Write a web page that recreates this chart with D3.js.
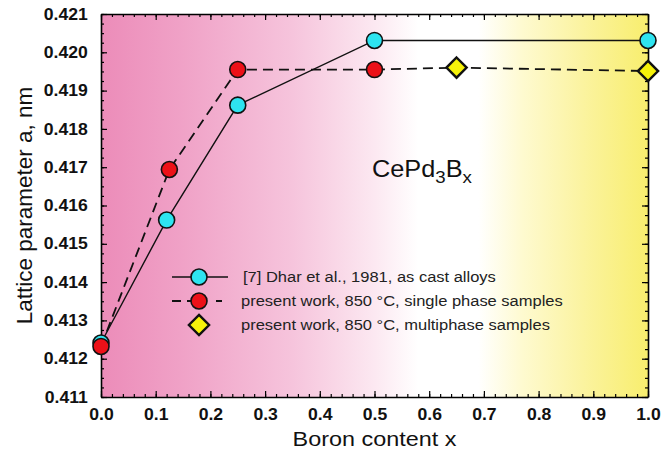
<!DOCTYPE html>
<html>
<head>
<meta charset="utf-8">
<script src="https://cdn.jsdelivr.net/npm/d3@7"></script>
<style>
  html, body { margin: 0; padding: 0; background: #ffffff; }
  svg { display: block; }
</style>
</head>
<body>
<svg id="chart" width="661" height="454"></svg>
<script>
// Lattice parameter of CePd3Bx versus boron content
const dharX = [0.0, 0.12, 0.25, 0.5, 1.0];
const dharA = [0.41241, 0.41562, 0.41862, 0.42031, 0.42031];

const singleX = [0.0, 0.125, 0.25, 0.5];
const singleA = [0.41232, 0.41694, 0.41955, 0.41955];

const multiX = [0.65, 1.0];
const multiA = [0.41960, 0.41951];

const xTicks = [0.0, 0.1, 0.2, 0.3, 0.4, 0.5, 0.6, 0.7, 0.8, 0.9, 1.0];
const yTicks = [0.411, 0.412, 0.413, 0.414, 0.415, 0.416, 0.417, 0.418, 0.419, 0.420, 0.421];

const legendLabels = [
  "[7] Dhar et al., 1981, as cast alloys",
  "present work, 850 °C, single phase samples",
  "present work, 850 °C, multiphase samples"
];

const svg = d3.select("#chart");
const margin = { left: 101, right: 13, top: 14, bottom: 57 };
const W = 661, H = 454;
const pw = W - margin.left - margin.right;
const ph = H - margin.top - margin.bottom;

const x = d3.scaleLinear().domain([0, 1]).range([margin.left, margin.left + pw]);
const y = d3.scaleLinear().domain([0.411, 0.421]).range([margin.top + ph, margin.top]);

// the lettering is set slightly wide
const SX = 1.1;
const font = "'Liberation Sans', Arial, sans-serif";

// background gradient: pink -> white -> yellow
const defs = svg.append("defs");
const grad = defs.append("linearGradient").attr("id", "bg").attr("x1", "0%").attr("x2", "100%").attr("y1", "0%").attr("y2", "0%");
[
  [0.00, "#ec8cb9"],
  [0.15, "#f0a2c7"],
  [0.35, "#f6c4dc"],
  [0.50, "#fce8f1"],
  [0.58, "#ffffff"],
  [0.69, "#ffffff"],
  [0.77, "#fefad0"],
  [0.88, "#fbf3a0"],
  [1.00, "#f8ee6e"]
].forEach(([o, c]) => grad.append("stop").attr("offset", o).attr("stop-color", c));

svg.append("rect")
  .attr("x", margin.left).attr("y", margin.top)
  .attr("width", pw).attr("height", ph)
  .attr("fill", "url(#bg)");

// axes with inward ticks on all four sides
const xMinor = d3.range(0, 1.0001, 0.02);
const yMinor = d3.range(0.411, 0.42101, 0.00025);

function styleAxis(g) {
  g.select(".domain").attr("stroke", "#000").attr("stroke-width", 1.6);
  g.selectAll(".tick line").attr("stroke", "#000").attr("stroke-width", 1.2);
}

// minor ticks
svg.append("g").attr("transform", `translate(0,${margin.top + ph})`)
  .call(d3.axisBottom(x).tickValues(xMinor).tickSize(-3).tickFormat(""))
  .call(styleAxis).call(g => g.select(".domain").remove());
svg.append("g").attr("transform", `translate(0,${margin.top})`)
  .call(d3.axisTop(x).tickValues(xMinor).tickSize(-3).tickFormat(""))
  .call(styleAxis).call(g => g.select(".domain").remove());
svg.append("g").attr("transform", `translate(${margin.left},0)`)
  .call(d3.axisLeft(y).tickValues(yMinor).tickSize(-3).tickFormat(""))
  .call(styleAxis).call(g => g.select(".domain").remove());
svg.append("g").attr("transform", `translate(${margin.left + pw},0)`)
  .call(d3.axisRight(y).tickValues(yMinor).tickSize(-3).tickFormat(""))
  .call(styleAxis).call(g => g.select(".domain").remove());

// major ticks
const xb = svg.append("g").attr("transform", `translate(0,${margin.top + ph})`)
  .call(d3.axisBottom(x).tickValues(xTicks).tickSize(-6).tickSizeOuter(0).tickPadding(12).tickFormat(d3.format(".1f")))
  .call(styleAxis);
xb.selectAll("text").attr("font-family", font).attr("font-weight", "bold").attr("font-size", 16)
  .attr("fill", "#111").attr("transform", `scale(${SX},1)`);

svg.append("g").attr("transform", `translate(0,${margin.top})`)
  .call(d3.axisTop(x).tickValues(xTicks).tickSize(-6).tickSizeOuter(0).tickFormat(""))
  .call(styleAxis);

const yl = svg.append("g").attr("transform", `translate(${margin.left},0)`)
  .call(d3.axisLeft(y).tickValues(yTicks).tickSize(-6).tickSizeOuter(0).tickPadding(12).tickFormat(d3.format(".3f")))
  .call(styleAxis);
yl.selectAll("text").attr("font-family", font).attr("font-weight", "bold").attr("font-size", 16)
  .attr("fill", "#111").attr("transform", `scale(${SX},1)`);

svg.append("g").attr("transform", `translate(${margin.left + pw},0)`)
  .call(d3.axisRight(y).tickValues(yTicks).tickSize(-6).tickSizeOuter(0).tickFormat(""))
  .call(styleAxis);

// axis titles
svg.append("text")
  .attr("transform", `translate(${margin.left + pw / 2},446) scale(1.17,1)`)
  .attr("text-anchor", "middle")
  .attr("font-family", font).attr("font-size", 20).attr("fill", "#111")
  .text("Boron content x");

svg.append("text")
  .attr("transform", `translate(32,${margin.top + ph / 2}) rotate(-90)`)
  .attr("text-anchor", "middle")
  .attr("font-family", font).attr("font-size", 22.5).attr("fill", "#111")
  .text("Lattice parameter a, nm");

// lines
const line = d3.line().x(d => x(d[0])).y(d => y(d[1]));
const dharPts = dharX.map((v, i) => [v, dharA[i]]);
const singlePts = singleX.map((v, i) => [v, singleA[i]]);
const multiPts = multiX.map((v, i) => [v, multiA[i]]);

svg.append("path").datum(singlePts.concat(multiPts))
  .attr("d", line).attr("fill", "none")
  .attr("stroke", "#111").attr("stroke-width", 1.8).attr("stroke-dasharray", "10,6");

svg.append("path").datum(dharPts)
  .attr("d", line).attr("fill", "none")
  .attr("stroke", "#111").attr("stroke-width", 1.4);

// markers
svg.append("g").selectAll("circle").data(dharPts).join("circle")
  .attr("cx", d => x(d[0])).attr("cy", d => y(d[1])).attr("r", 8)
  .attr("fill", "#2ee4f0").attr("stroke", "#111").attr("stroke-width", 1.6);

svg.append("g").selectAll("circle").data(singlePts).join("circle")
  .attr("cx", d => x(d[0])).attr("cy", d => y(d[1])).attr("r", 8)
  .attr("fill", "#ec1118").attr("stroke", "#111").attr("stroke-width", 1.6);

const diamond = d3.symbol().type(d3.symbolDiamond2).size(260);
svg.append("g").selectAll("path").data(multiPts).join("path")
  .attr("transform", d => `translate(${x(d[0])},${y(d[1])})`)
  .attr("d", diamond)
  .attr("fill", "#f6f20a").attr("stroke", "#111").attr("stroke-width", 2.4).attr("stroke-linejoin", "miter");

// formula label
const f = svg.append("text")
  .attr("transform", `translate(372,177) scale(${SX},1)`)
  .attr("font-family", font).attr("font-size", 23).attr("fill", "#111");
f.append("tspan").text("CePd");
f.append("tspan").attr("font-size", 17).attr("dy", 6).text("3");
f.append("tspan").attr("dy", -6).text("B");
f.append("tspan").attr("font-size", 17).attr("dy", 6).text("x");

// legend
const lg = svg.append("g");
const legY = [277, 301, 325];
const lx = 199;

lg.append("line").attr("x1", 172).attr("x2", 228).attr("y1", legY[0]).attr("y2", legY[0])
  .attr("stroke", "#111").attr("stroke-width", 1.4);
lg.append("circle").attr("cx", lx).attr("cy", legY[0]).attr("r", 8)
  .attr("fill", "#2ee4f0").attr("stroke", "#111").attr("stroke-width", 1.6);

lg.append("line").attr("x1", 172).attr("x2", 228).attr("y1", legY[1]).attr("y2", legY[1])
  .attr("stroke", "#111").attr("stroke-width", 1.8).attr("stroke-dasharray", "9,6,12,6,2");
lg.append("circle").attr("cx", lx).attr("cy", legY[1]).attr("r", 8)
  .attr("fill", "#ec1118").attr("stroke", "#111").attr("stroke-width", 1.6);

lg.append("path")
  .attr("transform", `translate(${lx},${legY[2]})`)
  .attr("d", diamond)
  .attr("fill", "#f6f20a").attr("stroke", "#111").attr("stroke-width", 2.4);

lg.selectAll("text.leg").data(legendLabels).join("text")
  .attr("class", "leg")
  .attr("transform", (d, i) => `translate(${i === 0 ? 243 : 241},${legY[i] + 5}) scale(${SX},1)`)
  .attr("font-family", font).attr("font-size", 15).attr("fill", "#222")
  .text(d => d);
</script>
</body>
</html>
